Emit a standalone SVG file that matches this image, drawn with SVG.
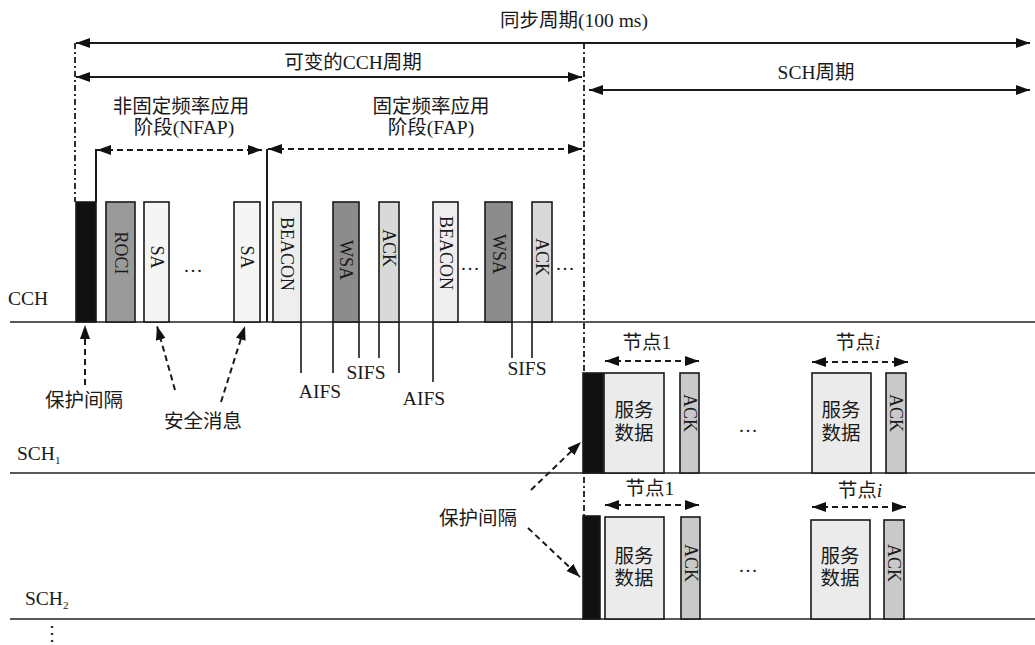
<svg xmlns="http://www.w3.org/2000/svg" width="1035" height="645" viewBox="0 0 1035 645">
<style>
.t{font-family:"Liberation Serif","Noto Sans CJK SC",serif;font-size:19.5px;fill:#1a1a1a}
.tc{text-anchor:middle}
.r{font-family:"Liberation Serif","Noto Sans CJK SC",serif;font-size:18px;fill:#1a1a1a;text-anchor:middle;dominant-baseline:central}
.blk{stroke:#1a1a1a;stroke-width:1.6}
.base{stroke:#222;stroke-width:1.6;fill:none}
.sol{stroke:#1a1a1a;stroke-width:2;fill:none}
.thin{stroke:#1a1a1a;stroke-width:1.6;fill:none}
.dash{stroke:#1a1a1a;stroke-width:2;fill:none;stroke-dasharray:6 4}
.dd{stroke:#1a1a1a;stroke-width:1.8;fill:none;stroke-dasharray:6 3 2 3}
</style>
<defs>
<marker id="ah" viewBox="0 0 14 10" refX="14" refY="5" markerWidth="14" markerHeight="10" orient="auto-start-reverse" markerUnits="userSpaceOnUse"><path d="M0,0 L14,5 L0,10 z" fill="#111"/></marker>
</defs>
<rect width="1035" height="645" fill="#fff"/>

<g id="timelines">
<line class="base" x1="10" y1="322" x2="1035" y2="322"/>
<line class="base" x1="10" y1="473" x2="1035" y2="473"/>
<line class="base" x1="10" y1="619" x2="1035" y2="619"/>
<text class="t" x="8" y="305">CCH</text>
<text class="t" x="17" y="460">SCH<tspan font-size="11" dy="4">1</tspan></text>
<text class="t" x="25" y="605">SCH<tspan font-size="11" dy="4">2</tspan></text>
<text class="t" x="42" y="640" font-size="16">⋮</text>
</g>

<g id="connectors">
<line class="dd" x1="75" y1="43" x2="75" y2="202"/>
<line class="dd" x1="584" y1="43" x2="584" y2="620"/>
<line class="sol" x1="76" y1="43" x2="1030" y2="43" marker-start="url(#ah)" marker-end="url(#ah)"/>
<line class="sol" x1="76" y1="77" x2="582" y2="77" marker-start="url(#ah)" marker-end="url(#ah)"/>
<line class="sol" x1="589" y1="90" x2="1030" y2="90" marker-start="url(#ah)" marker-end="url(#ah)"/>
<line class="dash" x1="97" y1="150" x2="262" y2="150" marker-start="url(#ah)" marker-end="url(#ah)"/>
<line class="dash" x1="268" y1="149" x2="582" y2="149" marker-start="url(#ah)" marker-end="url(#ah)"/>
<line class="sol" x1="96" y1="149" x2="96" y2="202"/>
<line class="sol" x1="267" y1="149" x2="267" y2="322"/>
<line class="thin" x1="301" y1="322" x2="301" y2="373"/>
<line class="thin" x1="333" y1="322" x2="333" y2="373"/>
<line class="thin" x1="359" y1="322" x2="359" y2="358"/>
<line class="thin" x1="379" y1="322" x2="379" y2="358"/>
<line class="thin" x1="399" y1="322" x2="399" y2="373"/>
<line class="thin" x1="433" y1="322" x2="433" y2="382"/>
<line class="thin" x1="512" y1="322" x2="512" y2="358"/>
<line class="thin" x1="532" y1="322" x2="532" y2="358"/>
<line class="dash" x1="85" y1="385" x2="85" y2="325" marker-end="url(#ah)"/>
<line class="dash" x1="175" y1="390" x2="157" y2="326" marker-end="url(#ah)"/>
<line class="dash" x1="221" y1="402" x2="245" y2="326" marker-end="url(#ah)"/>
<line class="dash" x1="531" y1="490" x2="581" y2="442" marker-end="url(#ah)"/>
<line class="dash" x1="528" y1="528" x2="580" y2="577" marker-end="url(#ah)"/>
<line class="dash" x1="605" y1="361" x2="699" y2="361" marker-start="url(#ah)" marker-end="url(#ah)"/>
<line class="dash" x1="812" y1="362" x2="908" y2="362" marker-start="url(#ah)" marker-end="url(#ah)"/>
<line class="dash" x1="605" y1="505" x2="699" y2="505" marker-start="url(#ah)" marker-end="url(#ah)"/>
<line class="dash" x1="812" y1="507" x2="906" y2="507" marker-start="url(#ah)" marker-end="url(#ah)"/>
</g>

<g id="labels">
<text class="t tc" x="574" y="27">同步周期(100 ms)</text>
<text class="t tc" x="353" y="69">可变的CCH周期</text>
<text class="t tc" x="816" y="79">SCH周期</text>
<text class="t tc" x="181" y="113">非固定频率应用</text>
<text class="t tc" x="184" y="134">阶段(NFAP)</text>
<text class="t tc" x="431" y="113">固定频率应用</text>
<text class="t tc" x="431" y="134">阶段(FAP)</text>
<text class="t tc" x="320" y="398">AIFS</text>
<text class="t tc" x="366" y="379">SIFS</text>
<text class="t tc" x="424" y="405">AIFS</text>
<text class="t tc" x="527" y="375">SIFS</text>
<text class="t tc" x="84" y="407">保护间隔</text>
<text class="t tc" x="203" y="428">安全消息</text>
<text class="t tc" x="478" y="525">保护间隔</text>
<text class="t tc" x="193" y="272">…</text>
<text class="t tc" x="470" y="270">…</text>
<text class="t tc" x="565" y="270">…</text>
<text class="t tc" x="748" y="432">…</text>
<text class="t tc" x="748" y="572">…</text>
</g>

<g id="cch-guard"><rect class="blk" x="76" y="202" width="20" height="120" fill="#111"/></g>
<g id="cch-roci"><rect class="blk" x="106" y="202" width="29" height="120" fill="#9a9a9a"/><text class="r" transform="translate(120.5,253) rotate(90)">ROCI</text></g>
<g id="cch-sa1"><rect class="blk" x="144" y="202" width="25" height="120" fill="#f5f5f5"/><text class="r" transform="translate(156.5,257) rotate(90)">SA</text></g>
<g id="cch-sa2"><rect class="blk" x="234" y="202" width="26" height="120" fill="#f5f5f5"/><text class="r" transform="translate(247,257) rotate(90)">SA</text></g>
<g id="cch-beacon1"><rect class="blk" x="273" y="202" width="28" height="120" fill="#eeeeee"/><text class="r" transform="translate(287,254) rotate(90)">BEACON</text></g>
<g id="cch-wsa1"><rect class="blk" x="333" y="202" width="26" height="120" fill="#8c8c8c"/><text class="r" transform="translate(346,260) rotate(90)">WSA</text></g>
<g id="cch-ack1"><rect class="blk" x="379" y="202" width="20" height="120" fill="#d9d9d9"/><text class="r" transform="translate(389,248) rotate(90)">ACK</text></g>
<g id="cch-beacon2"><rect class="blk" x="433" y="202" width="25" height="120" fill="#eeeeee"/><text class="r" transform="translate(445.5,253) rotate(90)">BEACON</text></g>
<g id="cch-wsa2"><rect class="blk" x="485" y="202" width="27" height="120" fill="#8c8c8c"/><text class="r" transform="translate(498.5,254) rotate(90)">WSA</text></g>
<g id="cch-ack2"><rect class="blk" x="532" y="202" width="20" height="120" fill="#d9d9d9"/><text class="r" transform="translate(542,257) rotate(90)">ACK</text></g>

<g id="sch1-guard"><rect class="blk" x="583" y="373" width="20" height="100" fill="#111"/></g>
<g id="sch1-node1"><text class="t tc" x="647" y="349">节点1</text><rect class="blk" x="604" y="373" width="60" height="100" fill="#ebebeb"/><text class="t tc" x="634" y="417">服务</text><text class="t tc" x="634" y="440">数据</text></g>
<g id="sch1-ack1"><rect class="blk" x="680" y="373" width="19" height="100" fill="#c9c9c9"/><text class="r" transform="translate(689.5,413) rotate(90)">ACK</text></g>
<g id="sch1-nodei"><text class="t tc" x="858" y="349">节点<tspan font-style="italic">i</tspan></text><rect class="blk" x="812" y="373" width="59" height="100" fill="#ebebeb"/><text class="t tc" x="841" y="417">服务</text><text class="t tc" x="841" y="440">数据</text></g>
<g id="sch1-acki"><rect class="blk" x="886" y="373" width="20" height="100" fill="#c9c9c9"/><text class="r" transform="translate(896,413) rotate(90)">ACK</text></g>

<g id="sch2-guard"><rect class="blk" x="583" y="516" width="17" height="103" fill="#111"/></g>
<g id="sch2-node1"><text class="t tc" x="650" y="495">节点1</text><rect class="blk" x="605" y="517" width="59" height="102" fill="#ebebeb"/><text class="t tc" x="634" y="563">服务</text><text class="t tc" x="634" y="585">数据</text></g>
<g id="sch2-ack1"><rect class="blk" x="681" y="517" width="19" height="102" fill="#c9c9c9"/><text class="r" transform="translate(690.5,563) rotate(90)">ACK</text></g>
<g id="sch2-nodei"><text class="t tc" x="860" y="497">节点<tspan font-style="italic">i</tspan></text><rect class="blk" x="811" y="520" width="59" height="99" fill="#ebebeb"/><text class="t tc" x="840" y="563">服务</text><text class="t tc" x="840" y="585">数据</text></g>
<g id="sch2-acki"><rect class="blk" x="884" y="520" width="20" height="99" fill="#c9c9c9"/><text class="r" transform="translate(894,563) rotate(90)">ACK</text></g>
</svg>
